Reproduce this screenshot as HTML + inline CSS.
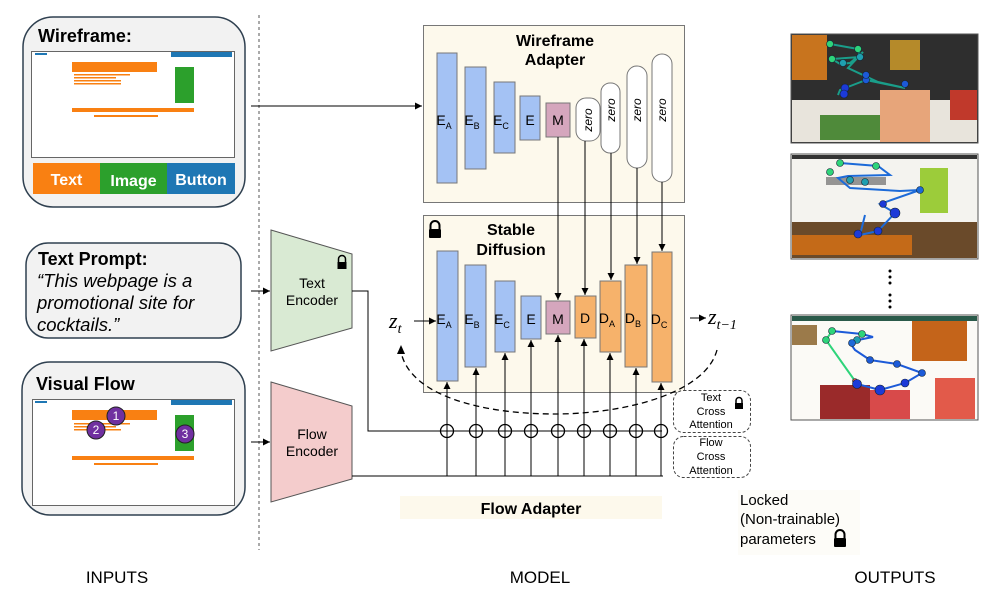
<!DOCTYPE html>
<html><head><meta charset="utf-8"><style>
html,body{margin:0;padding:0;background:#fff;}
svg{display:block;font-family:"Liberation Sans",Arial,sans-serif;}
</style></head><body>
<svg width="996" height="593" viewBox="0 0 996 593" xmlns="http://www.w3.org/2000/svg">
<defs>
<marker id="ah" markerWidth="8" markerHeight="8" refX="7" refY="4" orient="auto" markerUnits="userSpaceOnUse"><path d="M0,0.5 L7,4 L0,7.5 z" fill="#000"/></marker>
</defs>
<!-- dashed divider -->
<line x1="259" y1="15" x2="259" y2="550" stroke="#555" stroke-dasharray="3,3" stroke-width="1"/>

<!-- Wireframe box -->
<rect x="23" y="17" width="222" height="190" rx="30" fill="#f2f2f2" stroke="#2f4050" stroke-width="1.5"/>
<text x="38" y="42" font-size="18" font-weight="bold">Wireframe:</text>
<rect x="31.5" y="51.5" width="203" height="106" fill="#fff" stroke="#666"/>
<rect x="35" y="53" width="12" height="2" fill="#1f77b4"/>
<rect x="171" y="52" width="61" height="5" fill="#1f77b4"/>
<rect x="72" y="62" width="85" height="10" fill="#f98012"/>
<rect x="74" y="74" width="56" height="1.5" fill="#f98012"/>
<rect x="74" y="77" width="42" height="1.5" fill="#f98012"/>
<rect x="74" y="80" width="47" height="1.5" fill="#f98012"/>
<rect x="74" y="83" width="47" height="1.5" fill="#f98012"/>
<rect x="175" y="67" width="19" height="36" fill="#2ca02c"/>
<rect x="72" y="108" width="122" height="4" fill="#f98012"/>
<rect x="94" y="115" width="64" height="2" fill="#f98012"/>
<rect x="33" y="163" width="67" height="31" fill="#f98012"/>
<rect x="100" y="163" width="67" height="31" fill="#2ca02c"/>
<rect x="167" y="163" width="68" height="31" fill="#1f77b4"/>
<text x="66.5" y="185" font-size="16" font-weight="bold" fill="#fff" text-anchor="middle">Text</text>
<text x="133.5" y="186" font-size="16" font-weight="bold" fill="#fff" text-anchor="middle">Image</text>
<text x="201" y="185" font-size="16" font-weight="bold" fill="#fff" text-anchor="middle">Button</text>

<!-- Text Prompt box -->
<rect x="26" y="243" width="215" height="95" rx="22" fill="#f2f2f2" stroke="#2f4050" stroke-width="1.5"/>
<text x="38" y="265" font-size="18" font-weight="bold">Text Prompt:</text>
<text x="37" y="287" font-size="18.5" font-style="italic">“This webpage is a</text>
<text x="37" y="309" font-size="18.5" font-style="italic">promotional site for</text>
<text x="37" y="331" font-size="18.5" font-style="italic">cocktails.”</text>

<!-- Visual Flow box -->
<rect x="22" y="362" width="223" height="153" rx="28" fill="#f2f2f2" stroke="#2f4050" stroke-width="1.5"/>
<text x="36" y="390" font-size="18" font-weight="bold">Visual Flow</text>
<rect x="32.5" y="399.5" width="202" height="106" fill="#fff" stroke="#666"/>
<rect x="35" y="401" width="12" height="2" fill="#1f77b4"/>
<rect x="171" y="400" width="61" height="5" fill="#1f77b4"/>
<rect x="72" y="410" width="85" height="10" fill="#f98012"/>
<rect x="74" y="423" width="56" height="1.5" fill="#f98012"/>
<rect x="74" y="426" width="42" height="1.5" fill="#f98012"/>
<rect x="74" y="429" width="47" height="1.5" fill="#f98012"/>
<rect x="175" y="415" width="19" height="36" fill="#2ca02c"/>
<rect x="72" y="456" width="122" height="4" fill="#f98012"/>
<rect x="94" y="463" width="64" height="2" fill="#f98012"/>
<g stroke="#222" stroke-width="1" fill="#7030a0" font-size="12" >
<circle cx="116" cy="416" r="9"/><circle cx="96" cy="430" r="9"/><circle cx="185" cy="434" r="9"/>
</g>
<g font-size="12" fill="#fff" text-anchor="middle">
<text x="116" y="420">1</text><text x="96" y="434">2</text><text x="185" y="438">3</text>
</g>

<!-- input arrows -->
<line x1="251" y1="106" x2="422" y2="106" stroke="#000" marker-end="url(#ah)"/>
<line x1="251" y1="291" x2="270" y2="291" stroke="#000" marker-end="url(#ah)"/>
<line x1="251" y1="442" x2="270" y2="442" stroke="#000" marker-end="url(#ah)"/>

<!-- Encoders -->
<polygon points="271,230 352,254 352,328 271,351" fill="#d9ead3" stroke="#555"/>
<text x="312" y="288" font-size="14" text-anchor="middle">Text</text>
<text x="312" y="305" font-size="14" text-anchor="middle">Encoder</text>
<g transform="translate(342,262)"><path d="M-3.5,0 v-3 a3.5,3.5 0 0 1 7,0 v3" fill="none" stroke="#000" stroke-width="1.5"/><rect x="-4.5" y="0" width="9" height="7" fill="#000"/></g>
<polygon points="271,382 352,406 352,479 271,502" fill="#f4cccc" stroke="#555"/>
<text x="312" y="439" font-size="14" text-anchor="middle">Flow</text>
<text x="312" y="456" font-size="14" text-anchor="middle">Encoder</text>

<!-- Wireframe adapter -->
<rect x="423.5" y="25.5" width="261" height="177" fill="#fdf9ec" stroke="#777"/>
<text x="555" y="46" font-size="16" font-weight="bold" text-anchor="middle">Wireframe</text>
<text x="555" y="65" font-size="16" font-weight="bold" text-anchor="middle">Adapter</text>
<g stroke="#777" stroke-width="1">
<rect x="437" y="53" width="20" height="130" fill="#a4c2f4"/>
<rect x="465" y="67" width="21" height="102" fill="#a4c2f4"/>
<rect x="494" y="82" width="21" height="71" fill="#a4c2f4"/>
<rect x="520" y="96" width="20" height="44" fill="#a4c2f4"/>
<rect x="546" y="103" width="24" height="34" fill="#d5a6bd"/>
<rect x="576" y="98" width="24" height="43" rx="10" fill="#fff"/>
<rect x="601" y="83" width="19" height="70" rx="9" fill="#fff"/>
<rect x="627" y="66" width="20" height="102" rx="10" fill="#fff"/>
<rect x="652" y="54" width="20" height="128" rx="10" fill="#fff"/>
</g>
<g font-size="14" text-anchor="middle">
<text x="444" y="125">E<tspan font-size="9" dy="4">A</tspan></text>
<text x="472" y="125">E<tspan font-size="9" dy="4">B</tspan></text>
<text x="501" y="125">E<tspan font-size="9" dy="4">C</tspan></text>
<text x="530" y="125">E</text>
<text x="558" y="125">M</text>
</g>
<g font-size="12" font-style="italic" text-anchor="middle">
<text transform="translate(592,120) rotate(-90)">zero</text>
<text transform="translate(615,110) rotate(-90)">zero</text>
<text transform="translate(641,110) rotate(-90)">zero</text>
<text transform="translate(666,110) rotate(-90)">zero</text>
</g>

<!-- Stable Diffusion -->
<rect x="423.5" y="215.5" width="261" height="177" fill="#fdf9ec" stroke="#777"/>
<g transform="translate(435,229)"><path d="M-4.5,0 v-3.5 a4.5,4.5 0 0 1 9,0 v3.5" fill="none" stroke="#000" stroke-width="2"/><rect x="-6" y="0" width="12" height="9" rx="1" fill="#000"/></g>
<text x="511" y="235" font-size="16" font-weight="bold" text-anchor="middle">Stable</text>
<text x="511" y="255" font-size="16" font-weight="bold" text-anchor="middle">Diffusion</text>
<g stroke="#777" stroke-width="1">
<rect x="437" y="251" width="21" height="130" fill="#a4c2f4"/>
<rect x="465" y="265" width="21" height="102" fill="#a4c2f4"/>
<rect x="495" y="281" width="20" height="71" fill="#a4c2f4"/>
<rect x="521" y="296" width="20" height="43" fill="#a4c2f4"/>
<rect x="546" y="301" width="24" height="33" fill="#d5a6bd"/>
<rect x="575" y="296" width="21" height="42" fill="#f6b26b"/>
<rect x="600" y="281" width="21" height="71" fill="#f6b26b"/>
<rect x="625" y="265" width="22" height="102" fill="#f6b26b"/>
<rect x="652" y="252" width="20" height="130" fill="#f6b26b"/>
</g>
<g font-size="14" text-anchor="middle">
<text x="444" y="324">E<tspan font-size="9" dy="4">A</tspan></text>
<text x="472" y="324">E<tspan font-size="9" dy="4">B</tspan></text>
<text x="502" y="324">E<tspan font-size="9" dy="4">C</tspan></text>
<text x="531" y="324">E</text>
<text x="558" y="324">M</text>
<text x="585" y="323">D</text>
<text x="607" y="323">D<tspan font-size="9" dy="4">A</tspan></text>
<text x="633" y="323">D<tspan font-size="9" dy="4">B</tspan></text>
<text x="659" y="324">D<tspan font-size="9" dy="4">C</tspan></text>
</g>
<!-- adapter to SD arrows -->
<g stroke="#000" stroke-width="1" marker-end="url(#ah)">
<line x1="558" y1="137" x2="558" y2="300"/>
<line x1="585" y1="141" x2="585" y2="295"/>
<line x1="611" y1="153" x2="611" y2="280"/>
<line x1="637" y1="168" x2="637" y2="264"/>
<line x1="662" y1="182" x2="662" y2="251"/>
</g>
<!-- z labels -->
<text x="389" y="328" font-size="22" font-family="Liberation Serif,serif" font-style="italic">z<tspan font-size="14" dy="5">t</tspan></text>
<line x1="414" y1="321" x2="436" y2="321" stroke="#000" marker-end="url(#ah)"/>
<line x1="690" y1="318" x2="706" y2="318" stroke="#000" marker-end="url(#ah)"/>
<text x="708" y="324" font-size="22" font-family="Liberation Serif,serif" font-style="italic">z<tspan font-size="14" dy="5">t−1</tspan></text>
<!-- dashed arc -->
<path d="M717,350 C705,395 620,414 555,414 C480,414 410,395 401,352" fill="none" stroke="#000" stroke-width="1.3" stroke-dasharray="6,4"/>
<path d="M401,345 L397,354 L405,354 z" fill="#000"/>

<!-- connections -->
<polyline points="352,291 368,291 368,431 662,431" fill="none" stroke="#000"/>
<line x1="352" y1="476" x2="663" y2="476" stroke="#000"/>
<g stroke="#000" stroke-width="1" marker-end="url(#ah)">
<line x1="447" y1="476" x2="447" y2="382"/>
<line x1="476" y1="476" x2="476" y2="368"/>
<line x1="505" y1="476" x2="505" y2="353"/>
<line x1="531" y1="476" x2="531" y2="340"/>
<line x1="558" y1="476" x2="558" y2="335"/>
<line x1="584" y1="476" x2="584" y2="339"/>
<line x1="610" y1="476" x2="610" y2="353"/>
<line x1="636" y1="476" x2="636" y2="368"/>
<line x1="661" y1="476" x2="661" y2="383"/>
</g>
<g fill="none" stroke="#000" stroke-width="1.3">
<circle cx="447" cy="431" r="6.5"/><circle cx="476" cy="431" r="6.5"/><circle cx="505" cy="431" r="6.5"/>
<circle cx="531" cy="431" r="6.5"/><circle cx="558" cy="431" r="6.5"/><circle cx="584" cy="431" r="6.5"/>
<circle cx="610" cy="431" r="6.5"/><circle cx="636" cy="431" r="6.5"/><circle cx="661" cy="431" r="6.5"/>
</g>

<!-- cross attention boxes -->
<rect x="673.5" y="390.5" width="77" height="42" rx="10" fill="#fff" stroke="#444" stroke-dasharray="3,2"/>
<text x="711" y="401" font-size="11" text-anchor="middle">Text</text>
<text x="711" y="415" font-size="11" text-anchor="middle">Cross</text>
<text x="711" y="428" font-size="11" text-anchor="middle">Attention</text>
<g transform="translate(739,403)"><path d="M-3,0 v-2.5 a3,3 0 0 1 6,0 v2.5" fill="none" stroke="#000" stroke-width="1.5"/><rect x="-4" y="0" width="8" height="6" fill="#000"/></g>
<rect x="673.5" y="436.5" width="77" height="41" rx="10" fill="#fff" stroke="#444" stroke-dasharray="3,2"/>
<text x="711" y="446" font-size="11" text-anchor="middle">Flow</text>
<text x="711" y="460" font-size="11" text-anchor="middle">Cross</text>
<text x="711" y="474" font-size="11" text-anchor="middle">Attention</text>

<!-- Flow adapter label -->
<rect x="400" y="496" width="262" height="23" fill="#fdf9ec"/>
<text x="531" y="514" font-size="16" font-weight="bold" text-anchor="middle">Flow Adapter</text>

<!-- Locked legend -->
<rect x="738" y="490" width="122" height="65" fill="#fdfcf8"/>
<text x="740" y="505" font-size="15">Locked</text>
<text x="740" y="524" font-size="15">(Non-trainable)</text>
<text x="740" y="544" font-size="15">parameters</text>
<g transform="translate(840,538)"><path d="M-4.5,0 v-3.5 a4.5,4.5 0 0 1 9,0 v3.5" fill="none" stroke="#000" stroke-width="2"/><rect x="-6" y="0" width="12" height="9" rx="1" fill="#000"/></g>

<!-- Outputs -->
<g>
<rect x="791" y="34" width="187" height="109" fill="#2e2e2e" stroke="#555"/>
<rect x="792" y="35" width="35" height="45" fill="#c8741e"/>
<rect x="792" y="100" width="185" height="42" fill="#e8e4dc"/>
<rect x="880" y="90" width="50" height="52" fill="#e7a57a"/>
<rect x="820" y="115" width="60" height="25" fill="#4f8a3a"/>
<rect x="950" y="90" width="27" height="30" fill="#c0392b"/>
<rect x="890" y="40" width="30" height="30" fill="#b58a2a"/>
<polyline points="830,44 858,49 860,57 832,59 840,64 850,63 863,52 848,68 878,82 905,88 866,80 840,90 838,95" fill="none" stroke="#1a9e8a" stroke-width="2"/>
<g fill="#1f9fb0" stroke="#123" stroke-width="0.6"><circle cx="830" cy="44" r="3.5" fill="#2ed47a"/><circle cx="858" cy="49" r="3.5" fill="#2ed47a"/><circle cx="832" cy="59" r="3.5" fill="#2ed47a"/><circle cx="860" cy="57" r="3.5"/><circle cx="843" cy="63" r="3.5"/><circle cx="866" cy="80" r="3.5" fill="#1c5ad8"/><circle cx="905" cy="84" r="3.5" fill="#1c5ad8"/><circle cx="866" cy="75" r="3.5" fill="#1c5ad8"/><circle cx="845" cy="88" r="4" fill="#1c3ad8"/><circle cx="844" cy="94" r="4" fill="#1c3ad8"/></g>
</g>
<g>
<rect x="791" y="154" width="187" height="105" fill="#f4f3ef" stroke="#555"/>
<rect x="792" y="155" width="185" height="4" fill="#333"/>
<rect x="792" y="222" width="185" height="36" fill="#6a4a2a"/>
<rect x="792" y="235" width="120" height="20" fill="#c46a18"/>
<rect x="920" y="168" width="28" height="45" fill="#9ccc3a"/>
<rect x="826" y="177" width="60" height="8" fill="#555" opacity="0.6"/>
<polyline points="840,163 878,166 890,175 848,176 838,178 850,188 900,191 920,190 880,204 895,213 878,231 860,235 865,215" fill="none" stroke="#1c6ad8" stroke-width="2"/>
<g stroke="#123" stroke-width="0.6"><circle cx="840" cy="163" r="3.5" fill="#2ed47a"/><circle cx="876" cy="166" r="3.5" fill="#2ed47a"/><circle cx="830" cy="172" r="3.5" fill="#2ed47a"/><circle cx="850" cy="180" r="3.5" fill="#1f9fb0"/><circle cx="865" cy="182" r="3.5" fill="#1f9fb0"/><circle cx="920" cy="190" r="3.5" fill="#1c6ad8"/><circle cx="883" cy="204" r="3.5" fill="#1c3ad8"/><circle cx="895" cy="213" r="5" fill="#1c3ad8"/><circle cx="878" cy="231" r="4" fill="#1c3ad8"/><circle cx="858" cy="234" r="4" fill="#1c3ad8"/></g>
</g>
<g fill="#000"><circle cx="890" cy="271" r="1.5"/><circle cx="890" cy="277" r="1.5"/><circle cx="890" cy="283" r="1.5"/><circle cx="890" cy="295" r="1.5"/><circle cx="890" cy="301" r="1.5"/><circle cx="890" cy="307" r="1.5"/></g>
<g>
<rect x="791" y="315" width="187" height="105" fill="#fbfaf6" stroke="#555"/>
<rect x="792" y="316" width="185" height="5" fill="#2a5a4a"/>
<rect x="792" y="325" width="25" height="20" fill="#9b7a4a"/>
<rect x="912" y="321" width="55" height="40" fill="#c4641a"/>
<rect x="820" y="385" width="50" height="34" fill="#9a2a2a"/>
<rect x="870" y="390" width="40" height="29" fill="#d84a4a"/>
<rect x="935" y="378" width="40" height="41" fill="#e25a4a"/>
<polyline points="832,331 862,334 873,337 858,340 850,343 855,350 870,360 897,364 922,373 905,383 880,390 857,384" fill="none" stroke="#1c5ad8" stroke-width="2"/>
<polyline points="832,331 826,340 855,381" fill="none" stroke="#2ed47a" stroke-width="2"/>
<g stroke="#123" stroke-width="0.6"><circle cx="832" cy="331" r="3.5" fill="#2ed47a"/><circle cx="862" cy="334" r="3.5" fill="#2ed47a"/><circle cx="826" cy="340" r="3.5" fill="#2ed47a"/><circle cx="855" cy="381" r="2.5" fill="#e85a4a"/><circle cx="857" cy="340" r="3.5" fill="#1f9fb0"/><circle cx="852" cy="343" r="3.5" fill="#1f6ad8"/><circle cx="870" cy="360" r="3.5" fill="#1c5ad8"/><circle cx="897" cy="364" r="3.5" fill="#1c5ad8"/><circle cx="922" cy="373" r="3.5" fill="#1c5ad8"/><circle cx="905" cy="383" r="4" fill="#1c3ad8"/><circle cx="880" cy="390" r="5" fill="#1c3ad8"/><circle cx="857" cy="384" r="4.5" fill="#1c3ad8"/></g>
</g>

<!-- bottom labels -->
<text x="117" y="583" font-size="17" text-anchor="middle">INPUTS</text>
<text x="540" y="583" font-size="17" text-anchor="middle">MODEL</text>
<text x="895" y="583" font-size="17" text-anchor="middle">OUTPUTS</text>
</svg>
</body></html>
